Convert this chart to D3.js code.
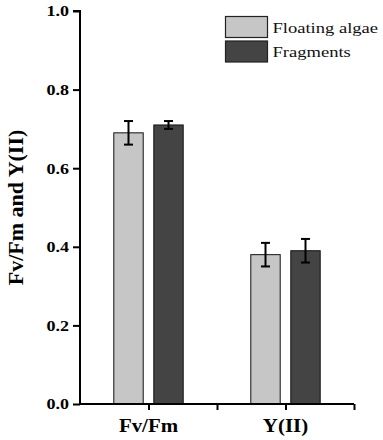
<!DOCTYPE html>
<html>
<head>
<meta charset="utf-8">
<script src="https://cdn.jsdelivr.net/npm/d3@7"></script>
<style>
  body { margin: 0; background: #fff; }
  text { font-family: "Liberation Serif", "Times New Roman", serif; }
</style>
</head>
<body>
<div id="chart"></div>
<script>
// data
var categories = ["Fv/Fm", "Y(II)"];
var catPos = [1, 3];
var series = ["Floating algae", "Fragments"];
var algaeVals = [0.69, 0.38];
var algaeErr = [0.03, 0.03];
var fragVals = [0.71, 0.39];
var fragErr = [0.01, 0.03];
var yTicks = [0, 0.2, 0.4, 0.6, 0.8, 1.0];
var xTicks = [1, 2, 3, 4];

var W = 383, H = 440;
var colors = ["#c6c6c6", "#444444"];

var svg = d3.select("#chart").append("svg")
  .attr("width", W)
  .attr("height", H);

var x = d3.scaleLinear().domain([0, 4]).range([80, 354]);
var y = d3.scaleLinear().domain([0, 1]).range([404, 11]);
var inner = d3.scaleBand().domain(series).range([-34.7, 34.7]).paddingInner(0.265).paddingOuter(0);

var rows = [];
categories.forEach(function(c, i) {
  rows.push({cat: c, s: series[0], v: algaeVals[i], e: algaeErr[i], pos: catPos[i]});
  rows.push({cat: c, s: series[1], v: fragVals[i], e: fragErr[i], pos: catPos[i]});
});

// bars
svg.append("g").selectAll("rect")
  .data(rows)
  .enter().append("rect")
    .attr("x", d => x(d.pos) + inner(d.s))
    .attr("y", d => y(d.v))
    .attr("width", inner.bandwidth())
    .attr("height", d => y(0) - y(d.v))
    .attr("fill", d => colors[series.indexOf(d.s)])
    .attr("stroke", "#111")
    .attr("stroke-width", 1);

// error bars
var eb = svg.append("g").attr("stroke", "#000").attr("stroke-width", 2);
rows.forEach(function(d) {
  var cx = x(d.pos) + inner(d.s) + inner.bandwidth() / 2;
  eb.append("line").attr("x1", cx).attr("x2", cx).attr("y1", y(d.v + d.e)).attr("y2", y(d.v - d.e));
  eb.append("line").attr("x1", cx - 4.5).attr("x2", cx + 4.5).attr("y1", y(d.v + d.e)).attr("y2", y(d.v + d.e));
  eb.append("line").attr("x1", cx - 4.5).attr("x2", cx + 4.5).attr("y1", y(d.v - d.e)).attr("y2", y(d.v - d.e));
});

// y axis
var yAxis = svg.append("g")
  .attr("transform", "translate(80,0)")
  .call(d3.axisLeft(y).tickValues(yTicks).tickFormat(d3.format(".1f")).tickSize(7).tickPadding(4));
yAxis.select(".domain").attr("stroke-width", 2).attr("d", "M-7," + y(1) + "H0V" + y(0));
yAxis.selectAll(".tick line").attr("stroke-width", 2).attr("stroke", "#000");
yAxis.selectAll(".tick text")
  .attr("font-weight", "bold")
  .attr("font-size", 15)
  .attr("fill", "#000")
  .attr("transform", "translate(-11,0) scale(1.2,1) translate(11,0)");

// x axis
var xAxis = svg.append("g")
  .attr("transform", "translate(0," + y(0) + ")")
  .call(d3.axisBottom(x).tickValues(xTicks).tickFormat("").tickSize(6));
xAxis.select(".domain").attr("stroke-width", 2).attr("d", "M80,0H" + x(4));
xAxis.selectAll(".tick line").attr("stroke-width", 2).attr("stroke", "#000");

svg.append("g").selectAll("text")
  .data(categories)
  .enter().append("text")
    .attr("transform", (d, i) => "translate(" + x(catPos[i]) + ",432) scale(1.1,1)")
    .attr("text-anchor", "middle")
    .attr("font-weight", "bold")
    .attr("font-size", 19)
    .attr("fill", "#000")
    .text(d => d);

// y title
svg.append("text")
  .attr("transform", "translate(23," + y(0.5) + ") rotate(-90)")
  .attr("text-anchor", "middle")
  .attr("font-weight", "bold")
  .attr("font-size", 22)
  .attr("fill", "#000")
  .text("Fv/Fm and Y(II)");

// legend
var leg = svg.append("g").selectAll("g")
  .data(series)
  .enter().append("g")
    .attr("transform", (d, i) => "translate(225.5," + (16.5 + i * 24.5) + ")");
leg.append("rect")
  .attr("width", 42)
  .attr("height", 21)
  .attr("fill", (d, i) => colors[i])
  .attr("stroke", "#222")
  .attr("stroke-width", 1.2);
leg.append("text")
  .attr("transform", "translate(47,16) scale(1.28,1)")
  .attr("font-size", 14.5)
  .attr("fill", "#111")
  .text(d => d);
</script>
</body>
</html>
